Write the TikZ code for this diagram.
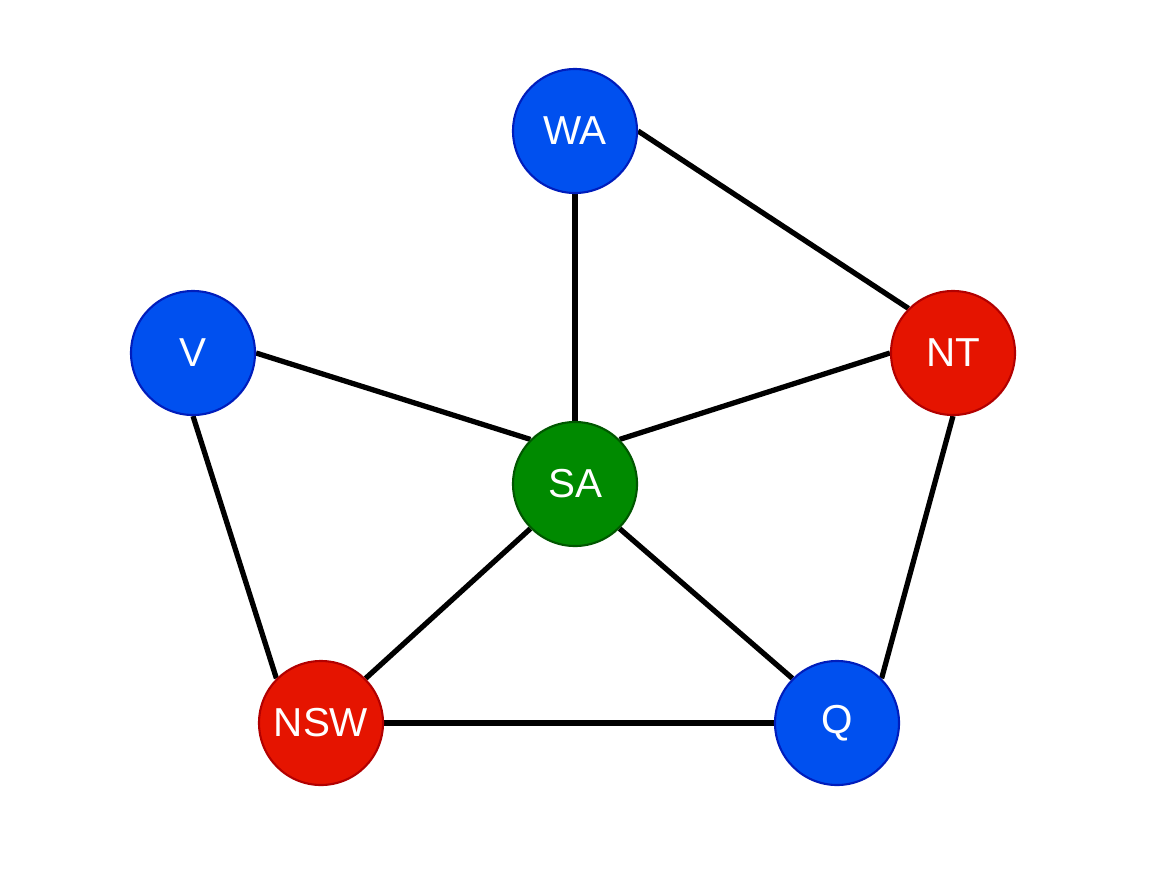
\documentclass[tikz,border=0pt]{standalone}
\usepackage{fontspec}
\setmainfont{Liberation Sans}
\usepackage{tikz}
\usetikzlibrary{backgrounds}

\definecolor{mapblue}{HTML}{0050EF}
\definecolor{mapbluedark}{HTML}{001DBC}
\definecolor{mapred}{HTML}{E51400}
\definecolor{mapreddark}{HTML}{B20000}
\definecolor{mapgreen}{HTML}{008A00}
\definecolor{mapgreendark}{HTML}{005700}

\tikzset{
	region/.style={circle, minimum size=1.24cm, inner sep=0pt, line width=0.6pt,
		text=white, font=\fontsize{11.5}{13}\selectfont},
	blue region/.style={region, fill=mapblue, draw=mapbluedark},
	red region/.style={region, fill=mapred, draw=mapreddark},
	green region/.style={region, fill=mapgreen, draw=mapgreendark}
}

\begin{document}
\begin{tikzpicture}
	\useasboundingbox (0,0) rectangle (11.52,-8.92);
	\begin{scope}
		\node[blue region] (WA) at (5.75,-1.31) {WA};
		\node[blue region] (V) at (1.93,-3.53) {V};
		\node[red region] (NT) at (9.53,-3.53) {NT};
		\node[green region] (SA) at (5.75,-4.84) {SA};
		\node[red region] (NSW) at (3.21,-7.23) {NSW};
		\node[blue region] (Q) at (8.37,-7.23) {Q};
	\end{scope}

	\begin{scope}[on background layer, every edge/.style={draw=black, line width=1.5pt}]
		\path (WA.south) edge (SA.north);
		\path (WA.east) edge (NT.north west);
		\path (V.east) edge (SA.north west);
		\path (NT.west) edge (SA.north east);
		\path (V.south) edge (NSW.north west);
		\path (NT.south) edge (Q.north east);
		\path (SA.south west) edge (NSW.north east);
		\path (SA.south east) edge (Q.north west);
		\path (NSW.east) edge (Q.west);
	\end{scope}
\end{tikzpicture}
\end{document}
